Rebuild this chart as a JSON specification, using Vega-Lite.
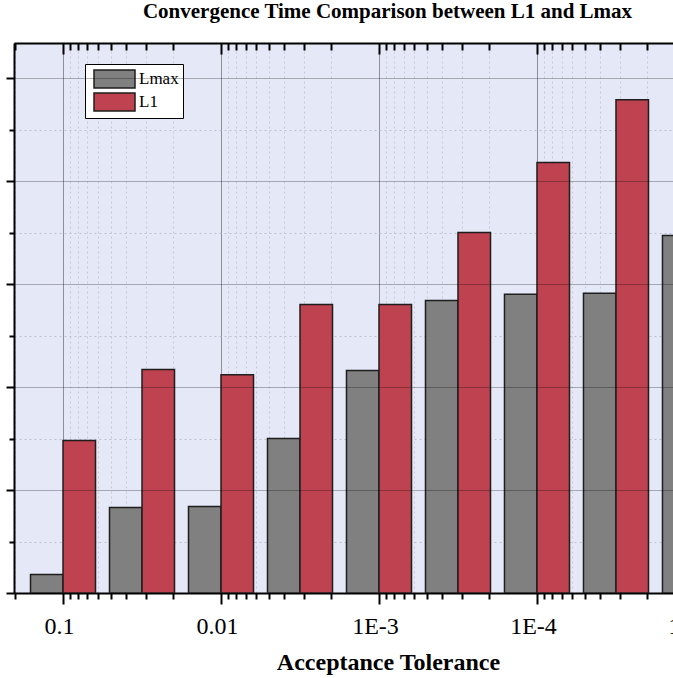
{
  "$schema": "https://vega.github.io/schema/vega-lite/v6.json",
  "width": 659,
  "height": 550,
  "autosize": {"type": "none"},
  "padding": {"left": 14, "top": 43, "right": 0, "bottom": 85},
  "background": "white",
  "title": {
    "text": "Convergence Time Comparison between L1 and Lmax",
    "font": "Liberation Serif",
    "fontSize": 21,
    "fontWeight": "bold",
    "color": "black",
    "anchor": "middle",
    "frame": "group",
    "dx": 44,
    "baseline": "alphabetic",
    "offset": 3
  },
  "config": {
    "view": {"stroke": null, "fill": "#e5e9f7"}
  },
  "resolve": {
    "scale": {"x": "independent"},
    "axis": {"x": "independent", "y": "independent"}
  },
  "layer": [
    {
      "data": {
        "values": [
          {"tol": "0.1", "series": "Lmax", "time": 0.18},
          {"tol": "0.1", "series": "L1", "time": 1.48},
          {"tol": "0.05", "series": "Lmax", "time": 0.83},
          {"tol": "0.05", "series": "L1", "time": 2.17},
          {"tol": "0.01", "series": "Lmax", "time": 0.84},
          {"tol": "0.01", "series": "L1", "time": 2.12},
          {"tol": "0.005", "series": "Lmax", "time": 1.5},
          {"tol": "0.005", "series": "L1", "time": 2.8},
          {"tol": "1E-3", "series": "Lmax", "time": 2.16},
          {"tol": "1E-3", "series": "L1", "time": 2.8},
          {"tol": "5E-4", "series": "Lmax", "time": 2.84},
          {"tol": "5E-4", "series": "L1", "time": 3.5},
          {"tol": "1E-4", "series": "Lmax", "time": 2.9},
          {"tol": "1E-4", "series": "L1", "time": 4.18},
          {"tol": "5E-5", "series": "Lmax", "time": 2.91},
          {"tol": "5E-5", "series": "L1", "time": 4.79},
          {"tol": "1E-5", "series": "Lmax", "time": 3.47},
          {"tol": "1E-5", "series": "L1", "time": 5.2}
        ]
      },
      "mark": {"type": "bar", "clip": true, "stroke": "#1e1e1e", "strokeWidth": 1.5},
      "encoding": {
        "x": {
          "field": "tol",
          "type": "nominal",
          "sort": null,
          "axis": null,
          "scale": {
            "domain": ["0.1", "0.05", "0.01", "0.005", "1E-3", "5E-4", "1E-4", "5E-5", "1E-5"],
            "range": [0, 730],
            "paddingInner": 0.177,
            "paddingOuter": 0.209
          }
        },
        "xOffset": {
          "field": "series",
          "type": "nominal",
          "scale": {"domain": ["Lmax", "L1"], "paddingInner": 0, "paddingOuter": 0}
        },
        "y": {
          "field": "time",
          "type": "quantitative",
          "scale": {"domain": [0, 5.34], "nice": false, "zero": true},
          "axis": {
            "orient": "left",
            "values": [0, 1, 2, 3, 4, 5],
            "labels": false,
            "title": null,
            "grid": true,
            "gridColor": "#000000",
            "gridOpacity": 0.28,
            "gridWidth": 1,
            "domain": true,
            "domainColor": "#000000",
            "domainWidth": 2,
            "ticks": true,
            "tickColor": "#000000",
            "tickWidth": 2,
            "tickSize": 8,
            "zindex": 1
          }
        },
        "color": {
          "field": "series",
          "type": "nominal",
          "scale": {"domain": ["Lmax", "L1"], "range": ["#808080", "#be424f"]},
          "legend": {
            "orient": "none",
            "legendX": 71,
            "legendY": 21,
            "title": null,
            "fillColor": "white",
            "strokeColor": "#000000",
            "padding": 4,
            "symbolType": "M-0.6,-0.9H3.5V0.9H-0.6Z",
            "symbolSize": 400,
            "symbolStrokeColor": "#1e1e1e",
            "symbolStrokeWidth": 1.5,
            "symbolOpacity": 1,
            "labelFont": "Liberation Serif",
            "labelFontSize": 17,
            "labelColor": "#000000",
            "labelOffset": 28,
            "rowPadding": -1
          }
        }
      }
    },
    {
      "data": {"values": [{"level": 0}]},
      "mark": {"type": "point", "opacity": 0},
      "encoding": {
        "y": {
          "field": "level",
          "type": "quantitative",
          "scale": {"domain": [0, 5.34], "nice": false, "zero": true},
          "axis": {
            "orient": "left",
            "values": [0.5, 1.5, 2.5, 3.5, 4.5],
            "labels": false,
            "title": null,
            "grid": true,
            "gridColor": "#bcc0d0",
            "gridDash": [2, 3],
            "gridWidth": 1,
            "domain": false,
            "ticks": true,
            "tickColor": "#000000",
            "tickWidth": 2,
            "tickSize": 5,
            "zindex": 0
          }
        }
      }
    },
    {
      "data": {"values": [{"tolerance": 0.1}]},
      "mark": {"type": "point", "opacity": 0},
      "encoding": {
        "x": {
          "field": "tolerance",
          "type": "quantitative",
          "scale": {"type": "log", "domain": [0.0000049, 0.2043], "reverse": true, "range": [0, 730], "nice": false, "zero": false},
          "axis": {
            "orient": "bottom",
            "values": [0.1, 0.01, 0.001, 0.0001, 0.00001],
            "labelExpr": "datum.value > 0.05 ? '0.1' : datum.value > 0.005 ? '0.01' : datum.value > 0.0005 ? '1E-3' : datum.value > 0.00005 ? '1E-4' : '1E-5'",
            "labelFont": "Liberation Serif",
            "labelFontSize": 24,
            "labelColor": "#000000",
            "labelBaseline": "alphabetic",
            "labelPadding": 29,
            "labelOffset": -4,
            "labelFlush": false,
            "labelOverlap": false,
            "grid": true,
            "gridColor": "#8e9099",
            "gridWidth": 1,
            "domain": true,
            "domainColor": "#000000",
            "domainWidth": 2,
            "ticks": true,
            "tickColor": "#000000",
            "tickWidth": 2,
            "tickSize": 11,
            "title": "Acceptance Tolerance",
            "titleFont": "Liberation Serif",
            "titleFontSize": 24,
            "titleFontWeight": "bold",
            "titleColor": "#000000",
            "titleBaseline": "alphabetic",
            "titleAnchor": "middle",
            "titleX": 374,
            "titleY": 76,
            "zindex": 0
          }
        }
      }
    },
    {
      "data": {"values": [{"tolerance": 0.1}]},
      "mark": {"type": "point", "opacity": 0},
      "encoding": {
        "x": {
          "field": "tolerance",
          "type": "quantitative",
          "scale": {"type": "log", "domain": [0.0000049, 0.2043], "reverse": true, "range": [0, 730], "nice": false, "zero": false},
          "axis": {
            "orient": "bottom",
            "values": [0.2, 0.09, 0.08, 0.07, 0.06, 0.05, 0.04, 0.03, 0.02, 0.009, 0.008, 0.007, 0.006, 0.005, 0.004, 0.003, 0.002, 0.0009, 0.0008, 0.0007, 0.0006, 0.0005, 0.0004, 0.0003, 0.0002, 0.00009, 0.00008, 0.00007, 0.00006, 0.00005, 0.00004, 0.00003, 0.00002],
            "labels": false,
            "title": null,
            "grid": true,
            "gridColor": "#c6cad9",
            "gridDash": [2, 3],
            "gridWidth": 1,
            "domain": false,
            "ticks": true,
            "tickColor": "#000000",
            "tickWidth": 2,
            "tickSize": 6,
            "zindex": 0
          }
        }
      }
    },
    {
      "data": {"values": [{"tolerance": 0.1}]},
      "mark": {"type": "point", "opacity": 0},
      "encoding": {
        "x": {
          "field": "tolerance",
          "type": "quantitative",
          "scale": {"type": "log", "domain": [0.0000049, 0.2043], "reverse": true, "range": [0, 730], "nice": false, "zero": false},
          "axis": {
            "orient": "top",
            "values": [0.1, 0.01, 0.001, 0.0001, 0.00001],
            "labels": false,
            "title": null,
            "grid": false,
            "domain": true,
            "domainColor": "#000000",
            "domainWidth": 2,
            "ticks": true,
            "tickColor": "#000000",
            "tickWidth": 2,
            "tickSize": -11,
            "zindex": 1
          }
        }
      }
    },
    {
      "data": {"values": [{"tolerance": 0.1}]},
      "mark": {"type": "point", "opacity": 0},
      "encoding": {
        "x": {
          "field": "tolerance",
          "type": "quantitative",
          "scale": {"type": "log", "domain": [0.0000049, 0.2043], "reverse": true, "range": [0, 730], "nice": false, "zero": false},
          "axis": {
            "orient": "top",
            "values": [0.2, 0.09, 0.08, 0.07, 0.06, 0.05, 0.04, 0.03, 0.02, 0.009, 0.008, 0.007, 0.006, 0.005, 0.004, 0.003, 0.002, 0.0009, 0.0008, 0.0007, 0.0006, 0.0005, 0.0004, 0.0003, 0.0002, 0.00009, 0.00008, 0.00007, 0.00006, 0.00005, 0.00004, 0.00003, 0.00002],
            "labels": false,
            "title": null,
            "grid": false,
            "domain": false,
            "ticks": true,
            "tickColor": "#000000",
            "tickWidth": 2,
            "tickSize": -7,
            "zindex": 1
          }
        }
      }
    }
  ]
}
